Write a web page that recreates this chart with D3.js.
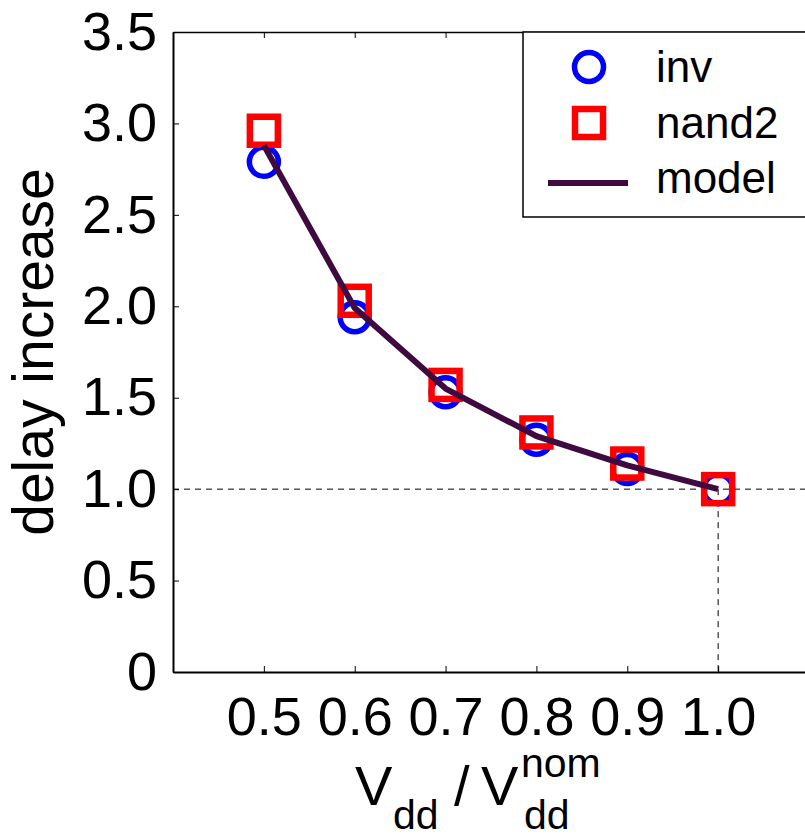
<!DOCTYPE html>
<html lang="en">
<head>
<meta charset="utf-8">
<style type="text/css">
    body { margin: 0; background: #fff; }
    text { font-family: "Liberation Sans", Arial, sans-serif; fill: #000; }
</style>
</head>
<body>
<svg width="805" height="836"></svg>
<script src="https://d3js.org/d3.v7.min.js"></script>
<script type="text/javascript">
    // values
    var vdd = [0.5, 0.6, 0.7, 0.8, 0.9, 1.0];
    var invDelay = [2.79, 1.94, 1.53, 1.27, 1.11, 1.0];
    var nand2Delay = [2.96, 2.03, 1.57, 1.31, 1.14, 1.0];
    var modelDelay = [2.88, 1.99, 1.55, 1.29, 1.13, 1.0];
    var xTicks = [0.5, 0.6, 0.7, 0.8, 0.9, 1.0];
    var yTicks = [0, 0.5, 1.0, 1.5, 2.0, 2.5, 3.0, 3.5];
    var legendNames = ["inv", "nand2", "model"];

    var svg = d3.select("svg");
    var plotLeft = 173, plotTop = 32, plotBottom = 672, plotRight = 809;

    var x = d3.scaleLinear().domain([0.4, 1.1]).range([plotLeft, plotRight]);
    var y = d3.scaleLinear().domain([0, 3.5]).range([plotBottom, plotTop]);

    var plot = svg.append("g");

    // dashed guides through the nominal point
    plot.append("line")
        .attr("x1", plotLeft).attr("x2", plotRight)
        .attr("y1", y(1)).attr("y2", y(1))
        .attr("stroke", "#000").attr("stroke-width", 1).attr("stroke-dasharray", "6,5");
    plot.append("line")
        .attr("x1", x(1)).attr("x2", x(1))
        .attr("y1", y(1)).attr("y2", plotBottom)
        .attr("stroke", "#000").attr("stroke-width", 1).attr("stroke-dasharray", "6,5");

    // axes, ticks pointing inward
    var xAxis = d3.axisBottom(x).tickValues(xTicks).tickSizeInner(-6).tickSizeOuter(0)
        .tickPadding(25).tickFormat(d3.format(".1f"));
    var yAxis = d3.axisLeft(y).tickValues(yTicks).tickSizeInner(-6).tickSizeOuter(0)
        .tickPadding(16).tickFormat(function (d) { return d === 0 ? "0" : d3.format(".1f")(d); });

    var gx = svg.append("g").attr("transform", "translate(0," + plotBottom + ")").call(xAxis);
    var gy = svg.append("g").attr("transform", "translate(" + plotLeft + ",0)").call(yAxis);
    var gxt = svg.append("g").attr("transform", "translate(0," + plotTop + ")")
        .call(d3.axisTop(x).tickValues(xTicks).tickSizeInner(-6).tickSizeOuter(0).tickFormat(""));

    [gx, gy, gxt].forEach(function (g) {
        g.select(".domain").attr("stroke", "#000").attr("stroke-width", 2);
        g.selectAll(".tick line").attr("stroke", "#000").attr("stroke-width", 1);
        g.selectAll(".tick text").style("font-size", "54px").attr("fill", "#000")
            .style("font-family", "'Liberation Sans', Arial, sans-serif");
    });
    gxt.select(".domain").attr("stroke-width", 1.3);

    var line = d3.line()
        .x(function (d, i) { return x(vdd[i]); })
        .y(function (d) { return y(d); });

    // markers
    plot.selectAll(".inv").data(invDelay).enter().append("circle")
        .attr("class", "inv")
        .attr("cx", function (d, i) { return x(vdd[i]); })
        .attr("cy", function (d) { return y(d); })
        .attr("r", 14.5)
        .attr("fill", "none").attr("stroke", "#0000ff").attr("stroke-width", 5.5);

    plot.selectAll(".nand2").data(nand2Delay).enter().append("rect")
        .attr("class", "nand2")
        .attr("x", function (d, i) { return x(vdd[i]) - 14; })
        .attr("y", function (d) { return y(d) - 14; })
        .attr("width", 28).attr("height", 28)
        .attr("fill", "none").attr("stroke", "#ff0000").attr("stroke-width", 6.5);

    plot.append("path")
        .datum(modelDelay)
        .attr("d", line)
        .attr("fill", "none").attr("stroke", "#3f0a40").attr("stroke-width", 6)
        .attr("stroke-linejoin", "round");

    // legend
    var lg = svg.append("g");
    lg.append("rect").attr("x", 523).attr("y", 32).attr("width", 290).attr("height", 185)
        .attr("fill", "#fff").attr("stroke", "#000").attr("stroke-width", 1.5);
    lg.append("circle").attr("cx", 589).attr("cy", 67).attr("r", 14.5)
        .attr("fill", "none").attr("stroke", "#0000ff").attr("stroke-width", 5.5);
    lg.append("rect").attr("x", 575).attr("y", 109).attr("width", 28).attr("height", 28)
        .attr("fill", "none").attr("stroke", "#ff0000").attr("stroke-width", 6.5);
    lg.append("line").attr("x1", 548).attr("x2", 628).attr("y1", 183).attr("y2", 183)
        .attr("stroke", "#3f0a40").attr("stroke-width", 6);
    lg.selectAll(".lt").data(legendNames).enter().append("text")
        .attr("class", "lt")
        .attr("x", 656)
        .attr("y", function (d, i) { return 82 + i * 55.5; })
        .style("font-size", "44px")
        .text(function (d) { return d; });

    // axis titles
    svg.append("text")
        .attr("transform", "translate(53,352) rotate(-90)")
        .attr("text-anchor", "middle")
        .style("font-size", "57px")
        .text("delay increase");

    var xl = svg.append("g").style("font-size", "56px");
    xl.append("text").attr("x", 355).attr("y", 805).text("V");
    xl.append("text").attr("x", 393).attr("y", 829).style("font-size", "41px").text("dd");
    xl.append("text").attr("x", 454).attr("y", 805).text("/");
    xl.append("text").attr("x", 481).attr("y", 805).text("V");
    xl.append("text").attr("x", 521).attr("y", 777).style("font-size", "41px").text("nom");
    xl.append("text").attr("x", 524).attr("y", 829).style("font-size", "41px").text("dd");
</script>
</body>
</html>
